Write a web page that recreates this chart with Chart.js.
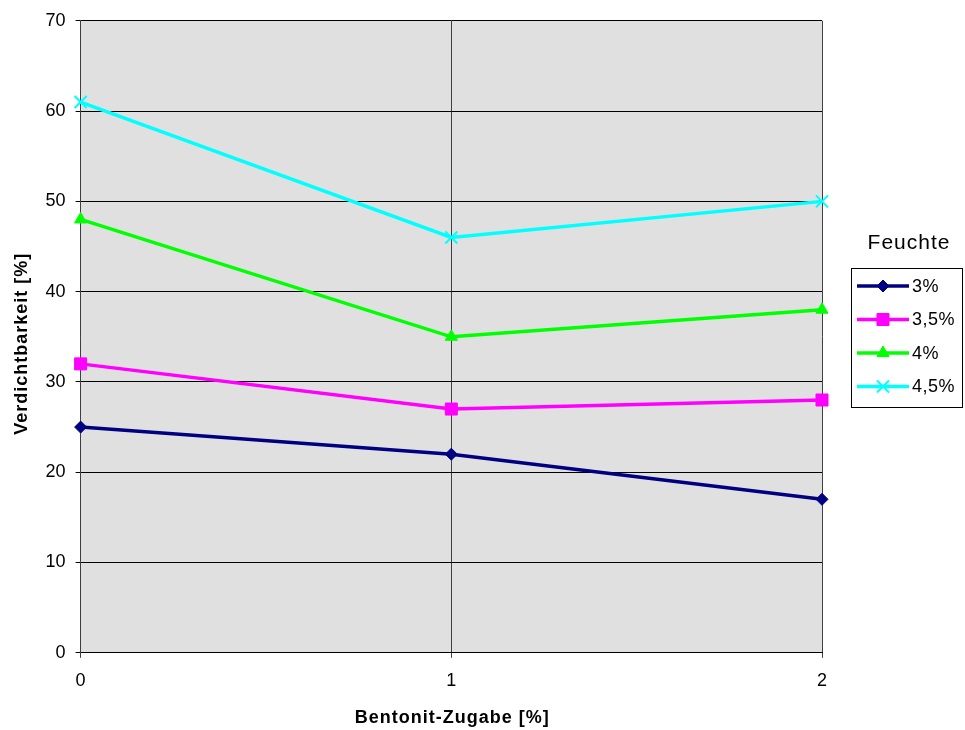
<!DOCTYPE html>
<html lang="de">
<head>
<meta charset="UTF-8">
<title>Verdichtbarkeit</title>
<script src="https://cdn.jsdelivr.net/npm/chart.js"></script>
<style>
  body { margin: 0; background: #fff; }
  #wrap { width: 965px; height: 730px; }
</style>
</head>
<body>
<div id="wrap"><canvas id="chart"></canvas></div>
<script>
// Bentonit-Zugabe [%]
const bentonit = [0, 1, 2];
// Feuchte series
const seriesNames = ['3%', '3,5%', '4%', '4,5%'];
const feuchte3 = [25, 22, 17];
const feuchte35 = [32, 27, 28];
const feuchte4 = [48, 35, 38];
const feuchte45 = [61, 46, 50];
const yTicks = [0, 10, 20, 30, 40, 50, 60, 70];

const colors = ['#000080', '#ff00ff', '#00ff00', '#00ffff'];
const markers = ['rectRot', 'rect', 'triangle', 'crossRot'];
const radii = [6, 8.5, 7, 8.5];
const values = [feuchte3, feuchte35, feuchte4, feuchte45];

const FONT = '"Liberation Sans", Arial, sans-serif';

const datasets = seriesNames.map((name, i) => ({
  label: name,
  data: bentonit.map((x, j) => ({ x: x, y: values[i][j] })),
  borderColor: colors[i],
  backgroundColor: colors[i],
  borderWidth: 3.5,
  pointStyle: markers[i],
  pointRadius: radii[i],
  pointBorderWidth: i === 3 ? 2 : 1,
  pointBorderColor: colors[i],
  pointBackgroundColor: colors[i],
  clip: false,
  tension: 0
}));

// grey plot area
const plotBg = {
  id: 'plotBg',
  beforeDraw(chart) {
    const a = chart.chartArea, ctx = chart.ctx;
    ctx.save();
    ctx.fillStyle = '#e0e0e0';
    ctx.fillRect(a.left, a.top, a.right - a.left, a.bottom - a.top);
    ctx.restore();
  }
};

// axis titles with a bit of letter spacing (the chart's own title boxes only keep the room)
const axisTitles = {
  id: 'axisTitles',
  afterDraw(chart) {
    const a = chart.chartArea, ctx = chart.ctx;
    ctx.save();
    ctx.letterSpacing = '1px';
    ctx.fillStyle = '#000';
    ctx.font = 'bold 18px ' + FONT;
    ctx.textAlign = 'center';
    ctx.textBaseline = 'middle';
    ctx.fillText('Bentonit-Zugabe [%]', (a.left + a.right) / 2 + 1, 718);
    ctx.translate(22, (a.top + a.bottom) / 2 + 7);
    ctx.rotate(-Math.PI / 2);
    ctx.fillText('Verdichtbarkeit [%]', 0, 0);
    ctx.restore();
  }
};

// boxed legend with title, like the original
const boxLegend = {
  id: 'boxLegend',
  afterDraw(chart) {
    const ctx = chart.ctx;
    ctx.save();
    ctx.letterSpacing = '1px';
    ctx.fillStyle = '#000';
    ctx.font = '21px ' + FONT;
    ctx.textAlign = 'center';
    ctx.textBaseline = 'middle';
    ctx.fillText('Feuchte', 909, 243);
    ctx.letterSpacing = '0.5px';

    ctx.strokeStyle = '#000';
    ctx.lineWidth = 1;
    ctx.strokeRect(851.5, 268.5, 111, 139);

    ctx.font = '18px ' + FONT;
    ctx.textAlign = 'left';
    chart.data.datasets.forEach((ds, i) => {
      const y = 286 + i * 33.5;
      ctx.strokeStyle = ds.borderColor;
      ctx.lineWidth = 3.5;
      ctx.beginPath();
      ctx.moveTo(857, y);
      ctx.lineTo(909, y);
      ctx.stroke();
      ctx.fillStyle = ds.borderColor;
      ctx.lineWidth = ds.pointBorderWidth;
      Chart.helpers.drawPoint(ctx, {
        pointStyle: ds.pointStyle,
        radius: ds.pointRadius,
        borderWidth: ds.pointBorderWidth,
        rotation: 0
      }, 883, y);
      ctx.fillStyle = '#000';
      ctx.fillText(ds.label, 912, y + 1);
    });
    ctx.restore();
  }
};

new Chart(document.getElementById('chart'), {
  type: 'line',
  data: { datasets: datasets },
  plugins: [plotBg, axisTitles, boxLegend],
  options: {
    responsive: true,
    maintainAspectRatio: false,
    animation: false,
    layout: { padding: { top: 11, right: 143, left: 6, bottom: 0 } },
    plugins: {
      legend: { display: false },
      tooltip: { enabled: false }
    },
    scales: {
      x: {
        type: 'linear',
        min: 0,
        max: 2,
        afterBuildTicks: (axis) => { axis.ticks = bentonit.map(v => ({ value: v })); },
        ticks: { color: '#000', font: { family: FONT, size: 18 }, padding: 12 },
        grid: { color: '#404040', lineWidth: 1, tickLength: 5 },
        border: { color: '#000', width: 1 },
        title: {
          display: true,
          text: 'Bentonit-Zugabe [%]',
          color: 'transparent',
          font: { family: FONT, size: 18, weight: 'bold' },
          padding: { top: 5, bottom: 0 }
        }
      },
      y: {
        min: 0,
        max: 70,
        afterBuildTicks: (axis) => { axis.ticks = yTicks.map(v => ({ value: v })); },
        ticks: { color: '#000', font: { family: FONT, size: 18 }, padding: 10 },
        grid: { color: '#000', lineWidth: 1, tickLength: 5 },
        border: { color: '#404040', width: 1 },
        title: {
          display: true,
          text: 'Verdichtbarkeit [%]',
          color: 'transparent',
          font: { family: FONT, size: 18, weight: 'bold' },
          padding: { top: 0, bottom: 8 }
        }
      }
    }
  }
});
</script>
</body>
</html>
